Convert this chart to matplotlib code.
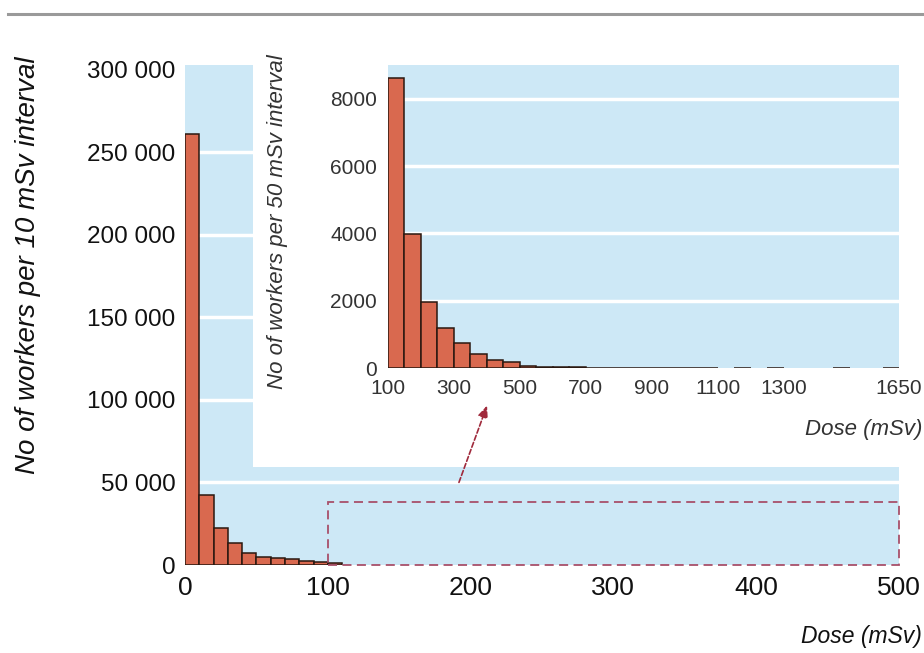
import matplotlib
matplotlib.use("Agg")
import matplotlib.pyplot as plt
from matplotlib.patches import Rectangle
from matplotlib.lines import Line2D
import numpy as np

# ---------------- data ----------------
main_bin_width = 10
main_bin_start = 0
main_counts = [261000, 42400, 22400, 13300, 7100, 5000, 4000, 3600, 2400, 2000, 1200]
main_yticks = [0, 50000, 100000, 150000, 200000, 250000, 300000]
main_grid = [50000, 100000, 150000, 200000, 250000]
main_xticks = [0, 100, 200, 300, 400, 500]

inset_bin_width = 50
inset_bin_start = 100
inset_counts = [8600, 3980, 1960, 1190, 740, 420, 240, 180, 60,
                30, 20, 15, 10, 8, 6, 5, 4, 3, 3, 2,
                0, 2, 0, 2, 0, 0, 0, 1, 0, 0, 1]
inset_yticks = [0, 2000, 4000, 6000, 8000]
inset_grid = [2000, 4000, 6000, 8000]
inset_xticks = [100, 300, 500, 700, 900, 1100, 1300, 1650]

zoom_box = (100, 0, 400, 38300)  # x, y, width, height in main data units

# ---------------- style ----------------
W, H = 924, 653
BLUE = '#cde8f6'
BAR = '#d9694f'
EDGE = '#2a1810'
narrow = ['Liberation Sans Narrow', 'Liberation Sans', 'DejaVu Sans']
regular = ['Liberation Sans', 'DejaVu Sans']

fig = plt.figure(figsize=(W / 100, H / 100), dpi=100)
fig.patch.set_facecolor('white')

def px(x0, y0, x1, y1):
    return [x0 / W, 1 - y1 / H, (x1 - x0) / W, (y1 - y0) / H]

# top rule
fig.add_artist(Line2D([8 / W, 1.0], [1 - 14 / H, 1 - 14 / H], color='#9a9a9a', lw=2.2))

# ---------------- main axes ----------------
ax = fig.add_axes(px(185, 65, 899, 565))
ax.set_zorder(0)
ax.set_facecolor(BLUE)
for s in ax.spines.values():
    s.set_visible(False)
for g in main_grid:
    ax.axhline(g, color='white', lw=2.5, zorder=0.5)
mx = main_bin_start + main_bin_width * np.arange(len(main_counts))
ax.bar(mx, main_counts, width=main_bin_width, align='edge', color=BAR,
       edgecolor=EDGE, linewidth=1.1, zorder=2)
ax.set_xlim(0, 500)
ax.set_ylim(0, 303000)
ax.set_yticks(main_yticks)
ax.set_yticklabels([f"{v:,}".replace(',', ' ') for v in main_yticks],
                   family=regular, fontsize=17.5, color='#111111')
ax.set_xticks(main_xticks)
ax.set_xticklabels([str(v) for v in main_xticks], family=regular, fontsize=19,
                   color='#111111')
ax.tick_params(length=0, pad=8)
ax.tick_params(axis='y', pad=7)
bx, by, bw, bh = zoom_box
ax.add_patch(Rectangle((bx, by), bw, bh, fill=False, ls=(0, (5, 3)),
                       ec='#a8506a', lw=1.3, zorder=3, clip_on=False))

# ---------------- white panel behind inset ----------------
panel = fig.add_axes(px(253, 50, 924, 467))
panel.set_zorder(1)
panel.set_facecolor('white')
panel.set_xticks([])
panel.set_yticks([])
for s in panel.spines.values():
    s.set_visible(False)

# ---------------- inset axes ----------------
ins = fig.add_axes(px(388, 65, 899, 368))
ins.set_zorder(2)
ins.set_facecolor(BLUE)
for s in ins.spines.values():
    s.set_visible(False)
for g in inset_grid:
    ins.axhline(g, color='white', lw=2.5, zorder=0.5)
ix = inset_bin_start + inset_bin_width * np.arange(len(inset_counts))
ic = np.array(inset_counts, dtype=float)
mask = ic > 0
ins.bar(ix[mask], ic[mask], width=inset_bin_width, align='edge', color=BAR,
        edgecolor=EDGE, linewidth=1.1, zorder=2)
ins.set_xlim(100, 1650)
ins.set_ylim(0, 9000)
ins.set_yticks(inset_yticks)
ins.set_yticklabels([str(v) for v in inset_yticks], family=narrow, fontsize=15,
                    color='#333333')
ins.set_xticks(inset_xticks)
ins.set_xticklabels([str(v) for v in inset_xticks], family=narrow, fontsize=15,
                    color='#333333')
ins.tick_params(axis='x', length=0, pad=8)
ins.tick_params(axis='y', length=0, pad=8)

# arrow from zoom box to inset
ins.annotate('', xy=(488 / W, 1 - 403 / H), xytext=(458 / W, 1 - 485 / H),
             xycoords='figure fraction', textcoords='figure fraction',
             annotation_clip=False,
             arrowprops=dict(arrowstyle='-|>,head_length=0.7,head_width=0.3',
                             color='#a02a3c', lw=1.2, ls=(0, (3, 1.5))))

# ---------------- labels ----------------
fig.text(28 / W, 1 - 265 / H, 'No of workers per 10 mSv interval', rotation=90,
         ha='center', va='center', family=narrow, style='italic', fontsize=20,
         color='#111111')
fig.text(278 / W, 1 - 222 / H, 'No of workers per 50 mSv interval', rotation=90,
         ha='center', va='center', family=narrow, style='italic', fontsize=16,
         color='#333333')
fig.text(922 / W, 1 - 636 / H, 'Dose (mSv)', ha='right', va='center',
         family=narrow, style='italic', fontsize=16.5, color='#111111')
fig.text(922 / W, 1 - 430 / H, 'Dose (mSv)', ha='right', va='center',
         family=narrow, style='italic', fontsize=16, color='#333333')

fig.savefig('out.png', dpi=100)
